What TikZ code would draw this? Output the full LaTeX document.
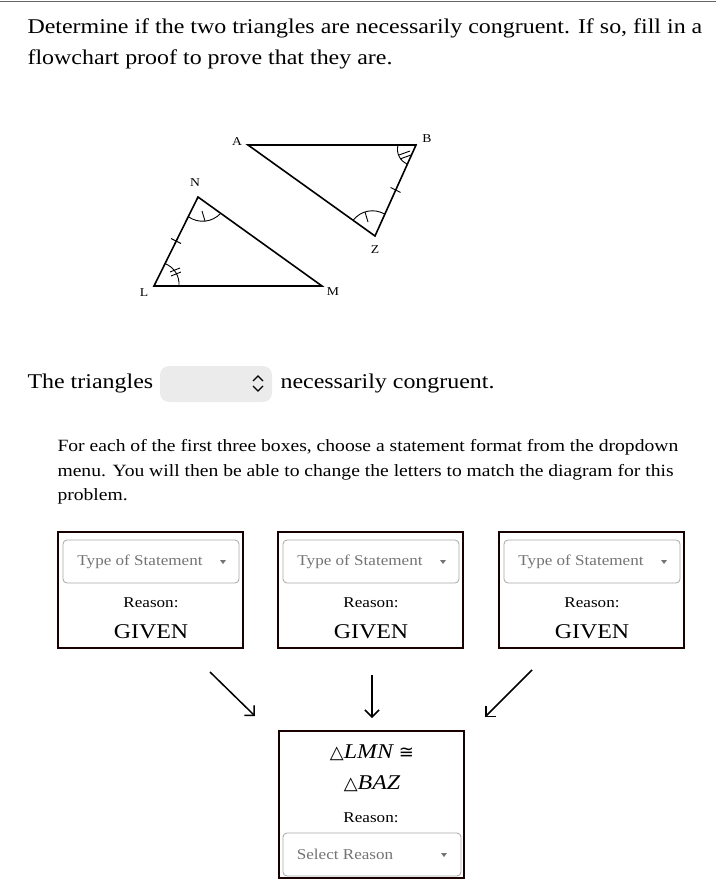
\documentclass[tikz,border=0pt]{standalone}
\usepackage{fontspec}
\setmainfont[FakeStretch=1.14]{Liberation Serif}
\newfontfamily\dv{DejaVu Sans}
\usetikzlibrary{arrows.meta,calc}
\begin{document}
\begin{tikzpicture}[x=1pt,y=-1pt,
  tri/.style={line width=1.6pt,line join=miter},
  mk/.style={line width=0.9pt},
  bx/.style={draw=black!90!red,line width=2.4pt},
  dd/.style={draw=black!35,line width=0.8pt,rounded corners=4pt},
  gr/.style={text=black!55,font=\fontsize{15}{18}\selectfont},
  rs/.style={font=\fontsize{15}{18}\selectfont},
  gv/.style={font=\fontsize{21}{24}\selectfont},
  arr/.style={line width=1.5pt,-{Straight Barb[length=7pt,width=14pt]}}]
\useasboundingbox (0,0) rectangle (716,885);
\draw[black!60,line width=0.6pt] (0,1) -- (716,1);
\node[anchor=west,font=\fontsize{21}{31}\selectfont,align=left] (title) at (24,44)
 {Determine if the two triangles are necessarily congruent. If so, fill in a\\flowchart proof to prove that they are.};
\coordinate (A) at (248,145); \coordinate (B) at (416,145); \coordinate (Z) at (375,236);
\coordinate (N) at (198,197); \coordinate (L) at (154,286); \coordinate (M) at (322,286);
\draw[tri] (A)--(B)--(Z)--cycle;
\draw[tri] (L)--(M)--(N)--cycle;
\node[font=\fontsize{12}{14}\selectfont] (lA) at (237,142) {A};
\node[font=\fontsize{12}{14}\selectfont] (lB) at (427,139) {B};
\node[font=\fontsize{12}{14}\selectfont] (lZ) at (375,250) {Z};
\node[font=\fontsize{12}{14}\selectfont] (lN) at (195,183) {N};
\node[font=\fontsize{12}{14}\selectfont] (lL) at (144,293) {L};
\node[font=\fontsize{12}{14}\selectfont] (lM) at (333,292) {M};
\begin{scope}[mk]
\draw ($(L)!25pt!(M)$) to[bend right=35] ($(L)!25pt!(N)$);
\draw ($(L)+(16,-14)$) -- ++(10,-4);
\draw ($(L)+(17,-10)$) -- ++(10,-4);
\draw ($(N)!22pt!(L)$) to[bend right=40] ($(N)!28pt!(M)$);
\draw ($(N)+(4,14)$) -- ++(3,10);
\draw ($(B)!18pt!(A)$) to[bend right=40] ($(B)!21pt!(Z)$);
\draw ($(B)+(-17,10)$) -- ++(11,-4);
\draw ($(B)+(-16,14)$) -- ++(11,-4);
\draw ($(Z)!27pt!(A)$) to[bend left=40] ($(Z)!24pt!(B)$);
\draw ($(Z)+(-10,-24)$) -- ++(3,10);
\draw ($(L)!0.5!(N)+(-5,-3)$) -- ++(10,5);
\draw ($(B)!0.5!(Z)+(-5,-3)$) -- ++(10,5);
\end{scope}
\node[anchor=west,font=\fontsize{21}{24}\selectfont] (t1) at (24,383) {The triangles};
\node[fill=black!8,rounded corners=9pt,minimum width=112,minimum height=36] (sel) at (216,384) {};
\draw[line width=1.4pt] (253,381) -- (258,376) -- (263,381) (253,386) -- (258,391) -- (263,386);
\node[anchor=west,font=\fontsize{21}{24}\selectfont] (t2) at (277,383) {necessarily congruent.};
\node[anchor=west,font=\fontsize{17.2}{24.5}\selectfont,align=left] (para) at (54,472)
 {For each of the first three boxes, choose a statement format from the dropdown\\menu. You will then be able to change the letters to match the diagram for this\\problem.};
\foreach \i/\x in {1/58,2/278,3/499}{
  \draw[bx] (\x,532) rectangle ++(185,116);
  \draw[dd] (\x+5,540) rectangle ++(176,43);
  \node[gr] (ts\i) at (\x+82,562) {Type of Statement};
  \fill[black!55] (\x+162,560) -- (\x+168,560) -- (\x+165,564) -- cycle;
  \node[rs] (r\i) at (\x+93,603) {Reason:};
  \node[gv] (g\i) at (\x+93,632) {GIVEN};
}
\draw[bx] (279,731) rectangle (464,878);
\node[font=\fontsize{21}{24}\selectfont\itshape] (s1) at (372,753) {{\dv\upshape\fontsize{18}{20}\selectfont △}LMN {\dv\upshape\fontsize{18}{20}\selectfont ≅}};
\node[font=\fontsize{21}{24}\selectfont\itshape] (s2) at (372,784) {{\dv\upshape\fontsize{18}{20}\selectfont △}BAZ};
\node[rs] (r4) at (371,818) {Reason:};
\draw[dd] (283,833) rectangle (461,876);
\node[gr] (sr) at (345,854) {Select Reason};
\fill[black!55] (441,853) -- (447,853) -- (444,857) -- cycle;
\coordinate (a1s) at (210,672); \coordinate (a1e) at (255,716);
\coordinate (a2s) at (372,675); \coordinate (a2e) at (372,718);
\coordinate (a3s) at (532,670); \coordinate (a3e) at (485,717);
\draw[arr] (a1s) -- (a1e);
\draw[arr] (a2s) -- (a2e);
\draw[arr] (a3s) -- (a3e);
\end{tikzpicture}
\end{document}
